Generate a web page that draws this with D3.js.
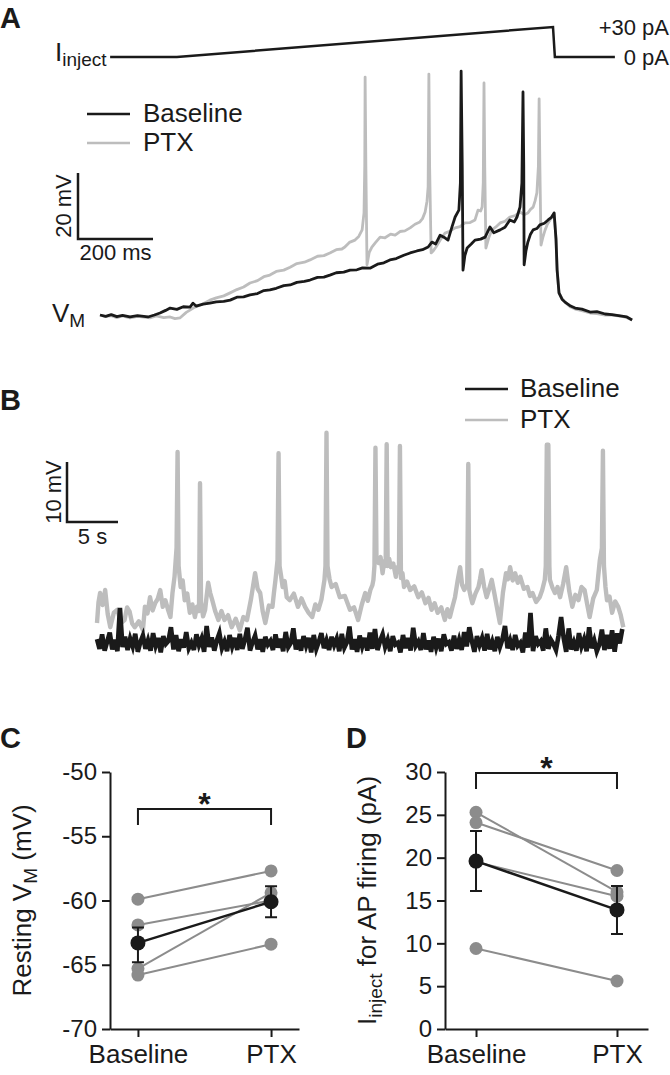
<!DOCTYPE html>
<html>
<head>
<meta charset="utf-8">
<script src="https://cdn.jsdelivr.net/npm/d3@7"></script>
<style>
  body { margin: 0; background: #fff; }
  text { font-family: 'Liberation Sans', Arial, Helvetica, sans-serif; fill: #1a1a1a; }
</style>
</head>
<body>
<script>
// ---- data ----
// panel A: current ramp [ms, pA]
const iInject = [[27, 0], [205, 0], [1208, 30], [1213, 0], [1373, 0]];

// panel A: membrane voltage [ms, mV]
const aBaseline = [[0,-65],[15,-65.4],[30,-64.9],[45,-65.5],[60,-65.1],[80,-65.6],[100,-65.2],[128,-65.6],[145,-65.0],[160,-64.4],[175,-63.6],[187,-62.9],[205,-63.3],[222,-62.5],[240,-62.6],[248,-61.4],[256,-62.3],[275,-61.7],[293,-61.4],[310,-61.0],[330,-60.9],[347,-60.5],[365,-59.6],[383,-59.5],[400,-58.9],[420,-58.5],[437,-57.6],[453,-57.4],[470,-56.9],[490,-56.1],[507,-55.9],[525,-55.1],[545,-54.8],[560,-54.4],[580,-53.6],[597,-53.5],[613,-52.9],[630,-52.2],[650,-52.0],[667,-51.4],[685,-51.3],[700,-50.7],[720,-50.8],[740,-49.6],[757,-49.2],[773,-48.3],[790,-47.9],[810,-46.9],[827,-46.2],[845,-45.6],[860,-45.2],[875,-44.4],[885,-42.9],[895,-43.5],[907,-40.8],[918,-41.5],[928,-42.3],[938,-38.5],[947,-35.3],[957,-33.2],[961,-25],[963,8.9],[966,-20],[968,-51.4],[973,-47],[979,-44.7],[990,-43.5],[1000,-42.3],[1015,-42],[1027,-41.4],[1040,-38.3],[1050,-40.1],[1067,-39.2],[1080,-38.4],[1093,-36.2],[1105,-36.8],[1112,-35.3],[1120,-32.3],[1125,-25],[1128,2.6],[1130,-20],[1131,-49.8],[1136,-45.5],[1141,-42.9],[1148,-40.5],[1155,-39.2],[1165,-38.8],[1173,-37.7],[1185,-37.2],[1195,-36.2],[1203,-35.5],[1211,-34.1],[1216,-42],[1219,-51.4],[1224,-58.3],[1232,-60.2],[1240,-61.1],[1255,-62.3],[1267,-62.9],[1285,-63.2],[1307,-64.1],[1325,-64.0],[1347,-64.7],[1365,-64.9],[1387,-65.3],[1405,-65.6],[1419,-66.5]];

const aPTX = [[0,-65],[15,-65.5],[30,-65.2],[45,-65.8],[60,-65.3],[80,-65.9],[100,-65.4],[133,-65.9],[150,-65.3],[170,-65.8],[187,-65.6],[200,-66.1],[213,-65.9],[230,-64.2],[253,-62.6],[270,-61.9],[293,-60.5],[310,-59.8],[330,-59.2],[347,-58.3],[365,-57.3],[383,-56.5],[400,-55.3],[420,-54.6],[437,-53.4],[453,-52.9],[470,-51.8],[490,-51.4],[507,-50.5],[525,-49.4],[545,-49.0],[560,-48.3],[580,-47.2],[597,-47.0],[613,-46.2],[630,-45.2],[645,-45.0],[653,-44.4],[665,-43.0],[680,-42.3],[690,-41.2],[699,-39.2],[704,-34.1],[706,-20],[707,7.1],[709,-20],[712,-49.8],[718,-46],[725,-44.4],[735,-43],[747,-41.4],[760,-41.6],[775,-40.5],[787,-40.8],[800,-39.7],[813,-39.5],[827,-38.6],[840,-37.5],[853,-36.8],[860,-35.8],[867,-33.8],[872,-30.5],[875,-26.2],[877,8.0],[879,-20],[883,-46.2],[889,-45.5],[896,-44.4],[908,-42.1],[920,-40.2],[933,-39.6],[947,-38.6],[960,-38.2],[973,-37.1],[987,-37.0],[1000,-36.2],[1008,-33.2],[1015,-33.5],[1019,-32.3],[1022,-25],[1024,5.3],[1026,-20],[1029,-44.7],[1037,-41.5],[1045,-39.2],[1055,-38.4],[1067,-37.1],[1080,-36.6],[1093,-35.3],[1107,-34.9],[1120,-33.8],[1131,-34.6],[1141,-34.1],[1148,-33.0],[1155,-32.3],[1160,-30.5],[1165,-28.0],[1169,-20],[1171,0.5],[1173,-20],[1176,-43.8],[1181,-41.5],[1187,-39.2],[1193,-37.5],[1200,-36.2],[1205,-35.3],[1211,-34.1],[1216,-42],[1219,-51.4],[1224,-58.3],[1232,-60.0],[1240,-61.1],[1255,-62.6],[1267,-63.2],[1285,-63.7],[1307,-64.4],[1325,-64.6],[1347,-65.0],[1365,-65.0],[1387,-65.3],[1405,-65.8],[1419,-66.5]];

// panel B: spontaneous activity, PTX [s, mV]
const bPTX = [[0.0,-67.5],[0.15,-64],[0.3,-62.5],[0.55,-64.5],[0.8,-62.0],[1.05,-66],[1.3,-68.2],[1.65,-65.8],[2.0,-65.3],[2.35,-67.5],[2.7,-67.0],[2.95,-64.9],[3.2,-65.6],[3.45,-67.6],[3.7,-68.2],[4.1,-67.2],[4.5,-68.7],[4.7,-64.8],[4.95,-65.9],[5.2,-63.2],[5.45,-65.4],[5.7,-64.2],[5.95,-63.5],[6.2,-62.0],[6.45,-64.8],[6.7,-63.7],[6.95,-65.2],[7.2,-66.5],[7.4,-62.5],[7.6,-59.8],[7.8,-55],[7.9,-39.0],[8.0,-58],[8.2,-61.5],[8.4,-60.4],[8.6,-63.7],[8.85,-62.6],[9.1,-65.8],[9.35,-64.4],[9.6,-66.5],[9.8,-64.8],[10.0,-65.5],[10.1,-44.2],[10.2,-64],[10.4,-66.4],[10.6,-65.3],[10.75,-63],[10.9,-60.8],[11.1,-62.5],[11.3,-63.7],[11.6,-65.6],[11.9,-67.0],[12.2,-65.5],[12.5,-67.0],[12.85,-66.2],[13.2,-68.2],[13.6,-66.8],[14.0,-68.7],[14.35,-66.5],[14.7,-67.0],[15.1,-63.5],[15.5,-59.2],[15.75,-61.8],[16.0,-62.5],[16.25,-65.6],[16.5,-67.5],[16.85,-64.6],[17.2,-64.8],[17.35,-62.4],[17.5,-60.3],[17.7,-57],[17.8,-39.2],[17.9,-58],[18.05,-59.7],[18.2,-61.5],[18.4,-60.5],[18.6,-63.2],[18.9,-63.7],[19.3,-62.6],[19.7,-64.8],[20.05,-63.4],[20.4,-64.8],[20.75,-65.8],[21.1,-66.5],[21.4,-64.4],[21.7,-65.3],[22.0,-63.6],[22.3,-60.3],[22.4,-58],[22.5,-35.8],[22.6,-58],[22.8,-60.2],[23.0,-61.5],[23.4,-61.0],[23.8,-63.2],[24.3,-63.0],[24.8,-65.3],[25.2,-64.9],[25.6,-67.0],[25.95,-64.5],[26.3,-62.5],[26.55,-63.8],[26.8,-62.0],[27.0,-61.2],[27.1,-60.3],[27.2,-58],[27.3,-38.3],[27.4,-57],[27.6,-57.5],[27.8,-56.5],[28.0,-59.2],[28.15,-57.2],[28.3,-58],[28.4,-37.7],[28.5,-58],[28.65,-56.8],[28.8,-58.2],[29.05,-57.6],[29.3,-59.8],[29.45,-58.2],[29.6,-59],[29.7,-38.0],[29.8,-60],[29.95,-59.2],[30.1,-61.5],[30.4,-60.6],[30.7,-62.0],[31.1,-61.4],[31.5,-63.2],[31.85,-62.4],[32.2,-64.2],[32.5,-63.3],[32.8,-65.3],[33.1,-64.2],[33.4,-65.8],[33.75,-64.9],[34.1,-67.0],[34.35,-65.2],[34.6,-66.5],[34.85,-64.8],[35.1,-63.2],[35.35,-60.5],[35.6,-58.2],[35.8,-61.2],[36.0,-62.0],[36.3,-61],[36.4,-41.0],[36.5,-62],[36.65,-63.2],[36.8,-64.2],[37.1,-62.6],[37.4,-61.5],[37.55,-60.2],[37.7,-58.7],[37.95,-61.4],[38.2,-63.2],[38.45,-61.8],[38.7,-60.3],[38.95,-62.5],[39.2,-64.8],[39.35,-66.2],[39.5,-67.5],[39.8,-62.4],[40.1,-59.2],[40.3,-60.2],[40.5,-58.2],[40.75,-60.4],[41.0,-59.2],[41.25,-60.8],[41.5,-59.8],[41.85,-61.8],[42.2,-61.5],[42.45,-63.0],[42.7,-62.5],[43.05,-64.0],[43.4,-63.2],[43.65,-62.0],[43.9,-60.3],[44.0,-58],[44.1,-37.8],[44.2,-50],[44.25,-37.8],[44.35,-58],[44.4,-60.3],[44.65,-61.6],[44.9,-62.5],[45.15,-61.5],[45.4,-63.2],[45.7,-61.0],[46.0,-58.2],[46.3,-62.2],[46.6,-64.8],[46.9,-62.8],[47.2,-63.7],[47.5,-61.5],[47.8,-62.0],[48.05,-64.3],[48.3,-66.5],[48.65,-63.4],[49.0,-62.0],[49.15,-59.5],[49.3,-57.0],[49.5,-55],[49.6,-38.8],[49.7,-58],[49.85,-61.5],[50.0,-63.7],[50.25,-63.1],[50.5,-65.8],[50.8,-63.9],[51.1,-64.8],[51.35,-66.2],[51.6,-68.2]];

// panel B: baseline trace, one sample every 0.25 s [mV]
const bBaselineStep = 0.25;
const bBaseline = [
  -70.2,-71.8,-69.4,-72.1,-70.6,-69.1,-71.9,-70.3,-72.2,-65.0,
  -71.5,-69.8,-72.0,-70.1,-71.4,-69.3,-72.3,-70.7,-69.6,-71.8,
  -70.4,-72.1,-69.2,-71.3,-70.0,-72.4,-69.7,-71.0,-70.5,-68.2,
  -71.9,-69.5,-72.2,-70.2,-71.6,-69.0,-71.7,-70.8,-72.0,-69.4,
  -71.2,-70.1,-72.3,-68.0,-71.5,-69.9,-72.1,-70.4,-69.2,-71.7,
  -70.6,-72.2,-69.5,-71.4,-70.0,-72.0,-69.3,-71.8,-70.3,-68.3,
  -72.1,-70.7,-69.6,-71.9,-70.2,-72.3,-69.8,-71.1,-70.5,-72.0,
  -69.4,-71.6,-70.1,-72.2,-69.0,-71.5,-70.8,-68.4,-71.9,-70.3,
  -72.1,-69.7,-71.3,-70.0,-72.4,-69.5,-71.8,-70.6,-69.2,-71.7,
  -70.4,-72.0,-69.8,-71.2,-70.1,-72.2,-69.3,-71.6,-70.7,-68.1,
  -71.9,-70.2,-72.3,-69.6,-71.4,-70.0,-72.1,-69.1,-71.8,-68.5,
  -72.0,-70.5,-69.4,-71.5,-70.3,-72.2,-69.7,-71.1,-70.8,-72.4,
  -69.5,-71.7,-70.0,-72.1,-68.3,-71.3,-70.6,-72.0,-69.2,-71.9,
  -70.4,-72.3,-69.8,-71.6,-70.1,-72.2,-69.4,-71.0,-70.7,-72.1,
  -69.6,-71.8,-70.3,-72.0,-69.0,-71.4,-68.2,-70.5,-72.3,-69.7,
  -71.2,-70.0,-72.1,-69.3,-71.9,-70.6,-72.2,-69.8,-71.5,-70.2,
  -68.0,-71.7,-70.4,-72.0,-69.5,-71.3,-70.8,-72.4,-69.1,-71.6,
  -65.8,-72.2,-69.7,-71.0,-70.5,-72.1,-68.4,-71.8,-70.3,-71.0,
  -72.0,-69.6,-66.5,-70.0,-72.3,-68.4,-71.9,-70.7,-72.1,-69.2,
  -71.4,-70.2,-72.2,-68.2,-71.7,-70.4,-72.2,-71.1,-68.6,-72.0,
  -69.5,-71.8,-68.7,-72.3,-69.2,-70.9,-68.5
];

// panels C and D: per-cell values
const conditions = ["Baseline", "PTX"];
const restBaseline = [-59.9, -61.9, -65.3, -65.8];
const restPTX = [-57.7, -60.0, -59.4, -63.4];
const restMean = [-63.3, -60.1];
const restHi = [-62.1, -58.9];
const restLo = [-64.8, -61.3];
const restTicks = [-70, -65, -60, -55, -50];

const rheoBaseline = [25.3, 24.1, 19.5, 9.4];
const rheoPTX = [16.0, 18.5, 15.5, 5.6];
const rheoMean = [19.6, 13.9];
const rheoHi = [23.1, 16.7];
const rheoLo = [16.1, 11.1];
const rheoTicks = [0, 5, 10, 15, 20, 25, 30];

// ---- drawing ----
const black = "#1a1a1a";
const lightGray = "#bdbdbd";
const dotGray = "#8c8c8c";

const svg = d3.select("body").append("svg")
    .attr("width", 670)
    .attr("height", 1075);

function panelLabel(x, y, t) {
    svg.append("text").attr("x", x).attr("y", y)
        .style("font-size", "29px").style("font-weight", "bold").text(t);
}
panelLabel(0, 28, "A");
panelLabel(0, 410, "B");
panelLabel(0, 748, "C");
panelLabel(346, 748, "D");

// ---------- panel A ----------
const xA = d3.scaleLinear().domain([0, 1450]).range([100, 100 + 1450 * 0.375]);
const yA = d3.scaleLinear().domain([-65, 20]).range([315, 315 - 85 * 3.3]);
const yI = d3.scaleLinear().domain([0, 30]).range([57, 27]);

const lineA = d3.line().x(d => xA(d[0])).y(d => yA(d[1]));
const lineI = d3.line().x(d => xA(d[0])).y(d => yI(d[1]));

svg.append("path").datum(iInject).attr("d", lineI)
    .attr("fill", "none").attr("stroke", black).attr("stroke-width", 2.5);

const iLab = svg.append("text").attr("x", 55).attr("y", 61);
iLab.append("tspan").style("font-size", "26px").text("I");
iLab.append("tspan").attr("dy", 5).style("font-size", "19px").text("inject");

svg.append("text").attr("x", 669).attr("y", 35).attr("text-anchor", "end")
    .style("font-size", "22px").text("+30 pA");
svg.append("text").attr("x", 669).attr("y", 65).attr("text-anchor", "end")
    .style("font-size", "22px").text("0 pA");

svg.append("path").datum(aPTX).attr("d", lineA)
    .attr("fill", "none").attr("stroke", lightGray).attr("stroke-width", 2.8)
    .attr("stroke-linejoin", "round");
svg.append("path").datum(aBaseline).attr("d", lineA)
    .attr("fill", "none").attr("stroke", black).attr("stroke-width", 2.8)
    .attr("stroke-linejoin", "round");

// legend A
[["Baseline", black, 114], ["PTX", lightGray, 143]].forEach(([lab, col, y]) => {
    svg.append("line").attr("x1", 87).attr("x2", 130).attr("y1", y).attr("y2", y)
        .attr("stroke", col).attr("stroke-width", 2.5);
    svg.append("text").attr("x", 143).attr("y", y + 8)
        .style("font-size", "26px").text(lab);
});

// scale bar A: 20 mV, 200 ms
const sbAx = 78, sbAy = 239;
const sbAh = yA(-65) - yA(-45);
const sbAw = xA(200) - xA(0);
svg.append("path")
    .attr("d", `M${sbAx},${sbAy - sbAh}V${sbAy}H${sbAx + sbAw}`)
    .attr("fill", "none").attr("stroke", black).attr("stroke-width", 2.5);
svg.append("text").attr("transform", `translate(71,${sbAy - sbAh / 2}) rotate(-90)`)
    .attr("text-anchor", "middle").style("font-size", "22px").text("20 mV");
svg.append("text").attr("x", sbAx + sbAw / 2).attr("y", 260)
    .attr("text-anchor", "middle").style("font-size", "22px").text("200 ms");

const vLab = svg.append("text").attr("x", 52).attr("y", 322);
vLab.append("tspan").style("font-size", "26px").text("V");
vLab.append("tspan").attr("dy", 5).style("font-size", "19px").text("M");

// ---------- panel B ----------
const xB = d3.scaleLinear().domain([0, 52]).range([97, 97 + 52 * 10.2]);
const yB = d3.scaleLinear().domain([-70, -30]).range([638, 398]);

svg.append("path").datum(bPTX)
    .attr("d", d3.line().x(d => xB(d[0])).y(d => yB(d[1])))
    .attr("fill", "none").attr("stroke", lightGray).attr("stroke-width", 4.4)
    .attr("stroke-linejoin", "round");
svg.append("path").datum(bBaseline)
    .attr("d", d3.line().x((d, i) => xB(i * bBaselineStep)).y(d => yB(d)))
    .attr("fill", "none").attr("stroke", black).attr("stroke-width", 4.6);

[["Baseline", black, 389], ["PTX", lightGray, 420]].forEach(([lab, col, y]) => {
    svg.append("line").attr("x1", 465).attr("x2", 508).attr("y1", y).attr("y2", y)
        .attr("stroke", col).attr("stroke-width", 2.5);
    svg.append("text").attr("x", 520).attr("y", y + 8)
        .style("font-size", "26px").text(lab);
});

// scale bar B: 10 mV, 5 s
const sbBx = 67, sbBy = 522;
const sbBh = yB(-70) - yB(-60);
const sbBw = xB(5) - xB(0);
svg.append("path")
    .attr("d", `M${sbBx},${sbBy - sbBh}V${sbBy}H${sbBx + sbBw}`)
    .attr("fill", "none").attr("stroke", black).attr("stroke-width", 2.5);
svg.append("text").attr("transform", `translate(61,${sbBy - sbBh / 2}) rotate(-90)`)
    .attr("text-anchor", "middle").style("font-size", "22px").text("10 mV");
svg.append("text").attr("x", sbBx + sbBw / 2).attr("y", 544)
    .attr("text-anchor", "middle").style("font-size", "22px").text("5 s");

// ---------- panels C and D ----------
function pairedPlot(opts) {
    const { x, y, axisX, yTicks, before, after, mean, hi, lo, star, bracketY, title, titleX } = opts;
    const g = svg.append("g");

    g.append("g").attr("transform", `translate(${axisX},0)`)
        .call(d3.axisLeft(y).tickValues(yTicks).tickFormat(d => String(d))
            .tickSize(8).tickSizeOuter(0).tickPadding(5))
        .call(a => a.selectAll("path, line").attr("stroke", black).attr("stroke-width", 2))
        .call(a => a.selectAll("text").style("font-size", "24px").attr("fill", black)
            .style("font-family", "'Liberation Sans', Arial, sans-serif"));

    g.append("g").attr("transform", `translate(0,${y.range()[0]})`)
        .call(d3.axisBottom(x).tickSize(8).tickSizeOuter(0).tickPadding(8))
        .call(a => a.selectAll("path, line").attr("stroke", black).attr("stroke-width", 2))
        .call(a => a.selectAll("text").style("font-size", "26px").attr("fill", black)
            .style("font-family", "'Liberation Sans', Arial, sans-serif"));

    // individual cells
    before.forEach((b, i) => {
        g.append("line")
            .attr("x1", x("Baseline")).attr("y1", y(b))
            .attr("x2", x("PTX")).attr("y2", y(after[i]))
            .attr("stroke", dotGray).attr("stroke-width", 2);
    });
    before.forEach(b => g.append("circle").attr("cx", x("Baseline")).attr("cy", y(b))
        .attr("r", 6.5).attr("fill", dotGray));
    after.forEach(a => g.append("circle").attr("cx", x("PTX")).attr("cy", y(a))
        .attr("r", 6.5).attr("fill", dotGray));

    // mean +/- sem
    conditions.forEach((c, i) => {
        const cx = x(c);
        g.append("path")
            .attr("d", `M${cx - 6},${y(hi[i])}H${cx + 6}M${cx},${y(hi[i])}V${y(lo[i])}M${cx - 6},${y(lo[i])}H${cx + 6}`)
            .attr("fill", "none").attr("stroke", black).attr("stroke-width", 2);
    });
    g.append("line")
        .attr("x1", x("Baseline")).attr("y1", y(mean[0]))
        .attr("x2", x("PTX")).attr("y2", y(mean[1]))
        .attr("stroke", black).attr("stroke-width", 2.5);
    conditions.forEach((c, i) => g.append("circle").attr("cx", x(c)).attr("cy", y(mean[i]))
        .attr("r", 7.5).attr("fill", black));

    // significance bracket
    const x0 = x("Baseline"), x1 = x("PTX");
    g.append("path")
        .attr("d", `M${x0},${bracketY + 16}V${bracketY}H${x1}V${bracketY + 16}`)
        .attr("fill", "none").attr("stroke", black).attr("stroke-width", 2);
    g.append("text").attr("x", (x0 + x1) / 2).attr("y", star)
        .attr("text-anchor", "middle").style("font-size", "32px").style("font-weight", "bold")
        .text("*");

    // y title
    const t = g.append("text")
        .attr("transform", `translate(${titleX},${(y.range()[0] + y.range()[1]) / 2}) rotate(-90)`)
        .attr("text-anchor", "middle").style("font-size", "26px");
    title(t);
}

const yC = d3.scaleLinear().domain([-70, -50]).range([1029, 772]);
const xC = d3.scalePoint().domain(conditions).range([110, 299]).padding(0.21);
pairedPlot({
    x: xC, y: yC, axisX: 110, yTicks: restTicks,
    before: restBaseline, after: restPTX, mean: restMean, hi: restHi, lo: restLo,
    bracketY: 809, star: 815, titleX: 31,
    title: t => {
        t.append("tspan").text("Resting V");
        t.append("tspan").attr("dy", 6).style("font-size", "19px").text("M");
        t.append("tspan").attr("dy", -6).text(" (mV)");
    }
});

const yD = d3.scaleLinear().domain([0, 30]).range([1029, 772]);
const xD = d3.scalePoint().domain(conditions).range([445, 648]).padding(0.22);
pairedPlot({
    x: xD, y: yD, axisX: 445, yTicks: rheoTicks,
    before: rheoBaseline, after: rheoPTX, mean: rheoMean, hi: rheoHi, lo: rheoLo,
    bracketY: 773, star: 779, titleX: 376,
    title: t => {
        t.append("tspan").text("I");
        t.append("tspan").attr("dy", 6).style("font-size", "19px").text("inject");
        t.append("tspan").attr("dy", -6).text(" for AP firing (pA)");
    }
});
</script>
</body>
</html>
